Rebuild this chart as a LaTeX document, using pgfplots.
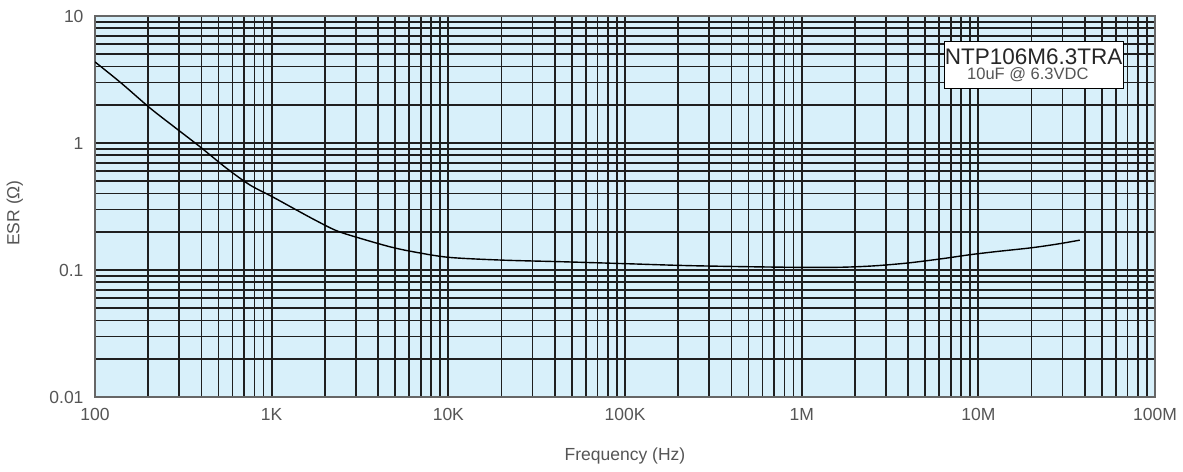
\documentclass[border=0pt]{standalone}
\usepackage{pgfplots}
\pgfplotsset{compat=1.18}
\usepackage{fontspec}
\setmainfont{Liberation Sans}
\definecolor{bgblue}{RGB}{216,240,250}
\definecolor{txtgray}{RGB}{85,85,85}
\begin{document}
\begin{tikzpicture}
\begin{axis}[
  name=ax,
  xmode=log, ymode=log,
  scale only axis,
  width=1060pt, height=381pt,
  xmin=100, xmax=1e8, ymin=0.01, ymax=10,
  axis background/.style={fill=bgblue},
  xtick={100,1000,10000,100000,1000000,10000000,100000000},
  xticklabels={100,1K,10K,100K,1M,10M,100M},
  ytick={0.01,0.1,1,10},
  yticklabels={0.01,0.1,1,10},
  minor xtick={200,300,400,500,600,700,800,900,
    2000,3000,4000,5000,6000,7000,8000,9000,
    20000,30000,40000,50000,60000,70000,80000,90000,
    200000,300000,400000,500000,600000,700000,800000,900000,
    2000000,3000000,4000000,5000000,6000000,7000000,8000000,9000000,
    20000000,30000000,40000000,50000000,60000000,70000000,80000000,90000000},
  minor ytick={0.02,0.03,0.04,0.05,0.06,0.07,0.08,0.09,
    0.2,0.3,0.4,0.5,0.6,0.7,0.8,0.9,
    2,3,4,5,6,7,8,9},
  grid=both,
  major grid style={black!88, line width=1.7pt},
  minor grid style={black!88, line width=1.7pt},
  major tick length=0pt, minor tick length=0pt,
  axis line style={black!60, line width=1.2pt},
  tick label style={font=\fontsize{17.5}{20}\selectfont, text=txtgray},
  /pgf/number format/assume math mode=true,
  xticklabel style={yshift=-8pt},
  yticklabel style={xshift=-8pt},
  xlabel={Frequency (Hz)},
  ylabel={ESR (Ω)},
  label style={font=\fontsize{17.5}{20}\selectfont, text=txtgray},
  xlabel style={at={(axis description cs:0.5,-0.155)}, anchor=center},
  ylabel style={at={(axis description cs:-0.0755,0.483)}, anchor=center},
  clip=true,
]
\addplot[black, line width=1.4pt, smooth] coordinates {
(100,4.35) (141.3,2.95) (204.6,1.888) (281.8,1.334) (392.6,0.935)
(555.9,0.632) (753.5,0.467) (1000,0.380) (1383.6,0.2965) (1778,0.2455)
(2333,0.2037) (3162,0.1778) (4667,0.1524) (6310,0.1393) (10000,0.1259)
(19953,0.1197) (44668,0.1161) (100000,0.1122) (239883,0.1081)
(794328,0.1052) (1584893,0.1050) (2511886,0.1076) (3981072,0.1135)
(6309573,0.1230) (8912509,0.1318) (12589254,0.1396) (19952623,0.1496)
(28183829,0.1603) (37497300,0.1718)
};
\draw[black, line width=0.9pt, fill=white] (axis description cs:0.801,0.811) rectangle (axis description cs:0.970,0.932);
\node[anchor=center, inner sep=0pt, font=\fontsize{22.5}{25}\selectfont, text=black!85] at (axis description cs:0.8855,0.894) {NTP106M6.3TRA};
\node[anchor=center, inner sep=0pt, font=\fontsize{16.5}{19}\selectfont, text=txtgray] at (axis description cs:0.880,0.845) {10uF @ 6.3VDC};
\end{axis}
\pgfresetboundingbox
\path ([shift={(-95pt,-75pt)}]ax.south west) rectangle ([shift={(28pt,16pt)}]ax.north east);
\end{tikzpicture}
\end{document}
